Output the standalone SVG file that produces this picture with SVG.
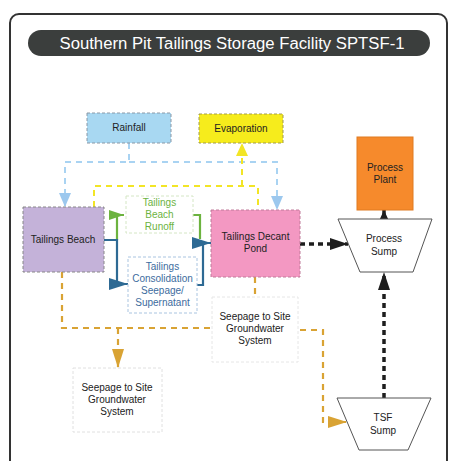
<svg xmlns="http://www.w3.org/2000/svg" width="453" height="461" viewBox="0 0 453 461">
<style>
text{font-family:"Liberation Sans",Arial,sans-serif;font-size:10px;fill:#222;text-anchor:middle}
.box{stroke-width:1;stroke-dasharray:3,2}
.c{fill:none}
.lb{stroke:#a9d3f2;stroke-width:2;stroke-dasharray:6,5}
.ye{stroke:#f2e526;stroke-width:2;stroke-dasharray:6,5}
.gr{stroke:#6cb33f;stroke-width:2.2}
.bl{stroke:#2e6a94;stroke-width:2.2}
.bk{stroke:#1e1e1e;stroke-width:3.5;stroke-dasharray:5,4}
.or{stroke:#d9a334;stroke-width:2.2;stroke-dasharray:6,5}
.trap{fill:#fff;stroke:#555;stroke-width:1}
</style>
<defs>
<marker id="aLb" markerUnits="userSpaceOnUse" markerWidth="14" markerHeight="16" refX="14" refY="6" orient="auto"><path d="M0,0L14,6L0,12Z" fill="#9cc8ee"/></marker>
<marker id="aYe" markerUnits="userSpaceOnUse" markerWidth="14" markerHeight="16" refX="13" refY="6" orient="auto"><path d="M0,0L13,6L0,12Z" fill="#f2e526"/></marker>
<marker id="aGr" markerUnits="userSpaceOnUse" markerWidth="16" markerHeight="12" refX="15" refY="5" orient="auto"><path d="M0,0L15,5L0,10Z" fill="#6cb33f"/></marker>
<marker id="aBl" markerUnits="userSpaceOnUse" markerWidth="20" markerHeight="14" refX="19" refY="6" orient="auto"><path d="M0,0L19,6L0,12Z" fill="#2e6a94"/></marker>
<marker id="aBk" markerUnits="userSpaceOnUse" markerWidth="20" markerHeight="14" refX="18" refY="6" orient="auto"><path d="M0,0L18,6L0,12Z" fill="#1e1e1e"/></marker>
<marker id="aBkS" markerUnits="userSpaceOnUse" markerWidth="14" markerHeight="12" refX="11" refY="5" orient="auto"><path d="M0,0L11,5L0,10Z" fill="#1e1e1e"/></marker>
<marker id="aOr" markerUnits="userSpaceOnUse" markerWidth="20" markerHeight="14" refX="19" refY="6" orient="auto"><path d="M0,0L19,6L0,12Z" fill="#d9a334"/></marker>
</defs>
<rect width="453" height="461" fill="#fff"/>
<rect x="10" y="14" width="437" height="480" rx="9" fill="none" stroke="#333" stroke-width="2"/>
<g id="title">
<rect x="28" y="30" width="402" height="26" rx="13" fill="#3b3e3d"/>
<text x="232" y="49" textLength="345" lengthAdjust="spacingAndGlyphs" style="font-size:16px;fill:#fff">Southern Pit Tailings Storage Facility SPTSF-1</text>
</g>
<g id="connectors">
<path class="c lb" d="M129,143V162H65V207" marker-end="url(#aLb)"/>
<path class="c lb" d="M129,162H277V210" marker-end="url(#aLb)"/>
<path class="c ye" d="M94,207V186H258V210"/>
<path class="c ye" d="M242,186V143" marker-end="url(#aYe)"/>
<path class="c gr" d="M117,240V215H124" marker-end="url(#aGr)"/>
<path class="c gr" d="M193,215H200V239"/>
<path class="c bl" d="M104,240H117V284H128" marker-end="url(#aBl)"/>
<path class="c bl" d="M197,285H203V243H211" marker-end="url(#aBl)"/>
<path class="c bk" d="M300,244H348" marker-end="url(#aBk)"/>
<path class="c bk" d="M384,219V210" style="stroke-dasharray:none" marker-end="url(#aBkS)"/>
<path class="c bk" d="M384,398V272" marker-end="url(#aBk)"/>
<path class="c or" d="M62,272V328H212"/>
<path class="c or" d="M118,328V368" marker-end="url(#aOr)"/>
<path class="c or" d="M255,277V297"/>
<path class="c or" d="M300,330H323V422H347" marker-end="url(#aOr)"/>
</g>
<g id="rainfall">
<rect class="box" x="87" y="113" width="84" height="30" fill="#a8d8f2" stroke="#8a98a6"/>
<text x="129" y="131">Rainfall</text>
</g>
<g id="evaporation">
<rect class="box" x="199" y="114" width="84" height="29" fill="#f6ec1c" stroke="#a09a50"/>
<text x="241" y="132">Evaporation</text>
</g>
<g id="tailings-beach">
<rect class="box" x="23" y="207" width="81" height="65" fill="#c4b2d9" stroke="#888"/>
<text x="63" y="243">Tailings Beach</text>
</g>
<g id="runoff">
<rect class="box" x="126" y="196" width="67" height="37" fill="#fff" stroke="#d4e6c4"/>
<text x="159.5" y="206" style="fill:#6cb33f">Tailings</text>
<text x="159.5" y="218" style="fill:#6cb33f">Beach</text>
<text x="159.5" y="230" style="fill:#6cb33f">Runoff</text>
</g>
<g id="consolidation">
<rect class="box" x="128" y="257" width="69" height="56" fill="#fff" stroke="#a9c4e0"/>
<text x="162.5" y="270" style="fill:#3d6c9e">Tailings</text>
<text x="162.5" y="282" style="fill:#3d6c9e">Consolidation</text>
<text x="162.5" y="294" style="fill:#3d6c9e">Seepage/</text>
<text x="162.5" y="306" style="fill:#3d6c9e">Supernatant</text>
</g>
<g id="decant-pond">
<rect class="box" x="211" y="210" width="89" height="67" fill="#f398c2" stroke="#c07a9a"/>
<text x="255.5" y="240">Tailings Decant</text>
<text x="255.5" y="252">Pond</text>
</g>
<g id="process-plant">
<rect x="357" y="137" width="56" height="73" fill="#f68a2c" stroke="#e07a20" stroke-width="1"/>
<text x="385" y="171">Process</text>
<text x="385" y="183">Plant</text>
</g>
<g id="process-sump">
<path class="trap" d="M338,219H432L413,272H360Z"/>
<text x="384" y="242">Process</text>
<text x="384" y="255">Sump</text>
</g>
<g id="seepage-mid">
<rect class="box" x="212" y="297" width="86" height="65" fill="#fff" stroke="#e6e6e6"/>
<text x="255" y="320">Seepage to Site</text>
<text x="255" y="332">Groundwater</text>
<text x="255" y="344">System</text>
</g>
<g id="seepage-low">
<rect class="box" x="73" y="368" width="89" height="64" fill="#fff" stroke="#e0e0e0"/>
<text x="117" y="391">Seepage to Site</text>
<text x="117" y="403">Groundwater</text>
<text x="117" y="415">System</text>
</g>
<g id="tsf-sump">
<path class="trap" d="M337,398H431L408,450H359Z"/>
<text x="383" y="421">TSF</text>
<text x="383" y="434">Sump</text>
</g>
</svg>
